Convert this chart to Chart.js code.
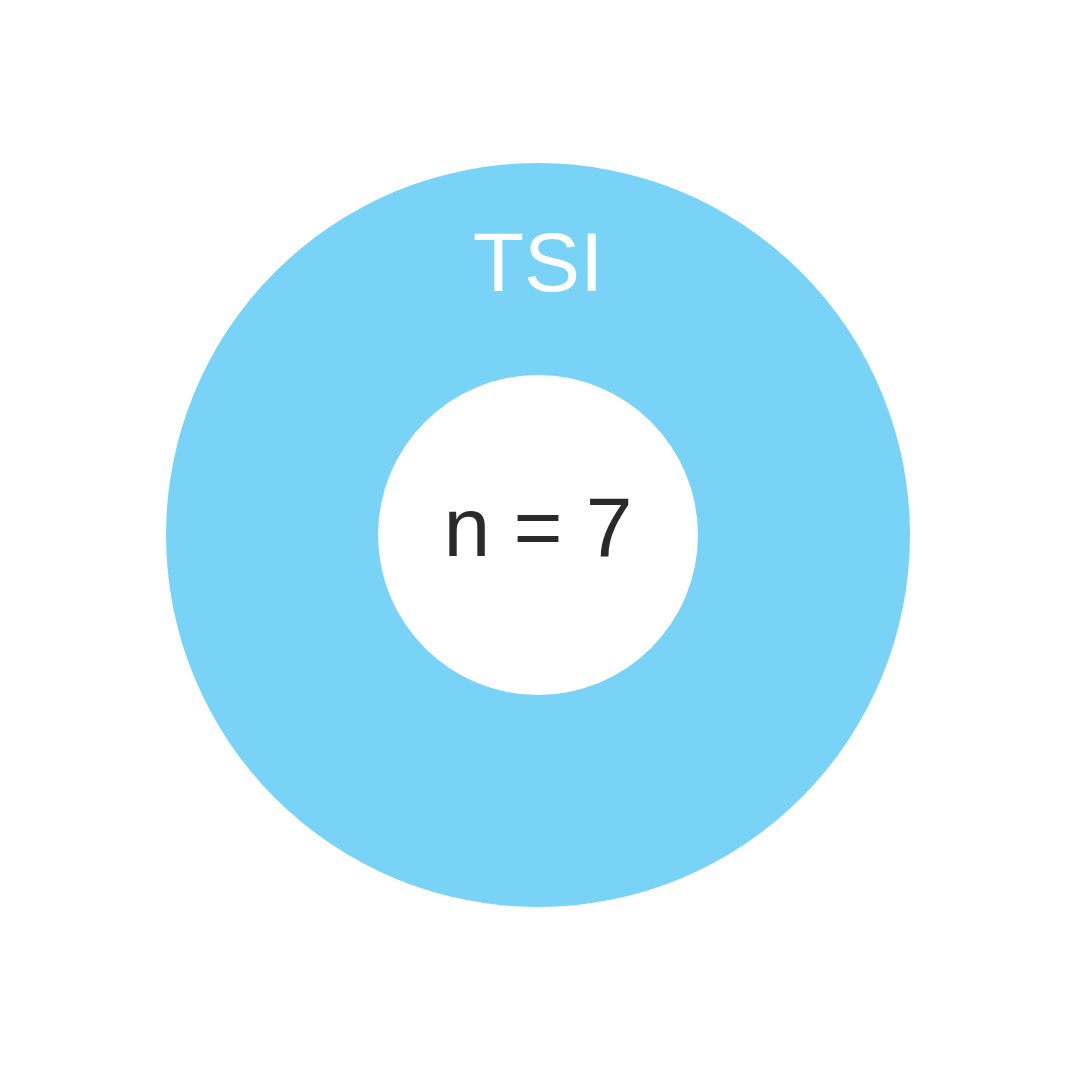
<!DOCTYPE html>
<html>
<head>
<meta charset="utf-8">
<script src="https://cdn.jsdelivr.net/npm/chart.js@4/dist/chart.umd.min.js"></script>
<style>
  html, body { margin: 0; padding: 0; background: #ffffff; }
  #wrap { width: 1077px; height: 1071px; position: relative; }
</style>
</head>
<body>
<div id="wrap"><canvas id="c"></canvas></div>
<script>
const categories = ['TSI'];
const values = [7];
const colors = ['#78D3F7'];

const labelPlugin = {
  id: 'labels',
  afterDatasetsDraw(chart) {
    const ctx = chart.ctx;
    const meta = chart.getDatasetMeta(0);
    const arc = meta.data[0];
    const cx = arc.x, cy = arc.y;
    const midR = (arc.outerRadius + arc.innerRadius) / 2;
    ctx.save();
    ctx.font = '84px "Liberation Sans", Arial, sans-serif';
    ctx.textAlign = 'center';
    ctx.textBaseline = 'alphabetic';
    // segment label at top of ring
    ctx.fillStyle = '#ffffff';
    ctx.fillText(categories[0], cx, cy - midR + 22);
    // centre total
    const total = values.reduce((a, b) => a + b, 0);
    ctx.fillStyle = '#2a2a2a';
    ctx.fillText('n = ' + total, cx, cy + 21);
    ctx.restore();
  }
};

new Chart(document.getElementById('c'), {
  type: 'doughnut',
  data: {
    labels: categories,
    datasets: [{
      data: values,
      backgroundColor: colors,
      borderWidth: 0
    }]
  },
  options: {
    responsive: true,
    maintainAspectRatio: false,
    animation: false,
    cutout: '43%',
    layout: { padding: { top: 163, bottom: 164, left: 166, right: 167 } },
    plugins: {
      legend: { display: false },
      tooltip: { enabled: false },
      title: { display: false }
    }
  },
  plugins: [labelPlugin]
});
</script>
</body>
</html>
